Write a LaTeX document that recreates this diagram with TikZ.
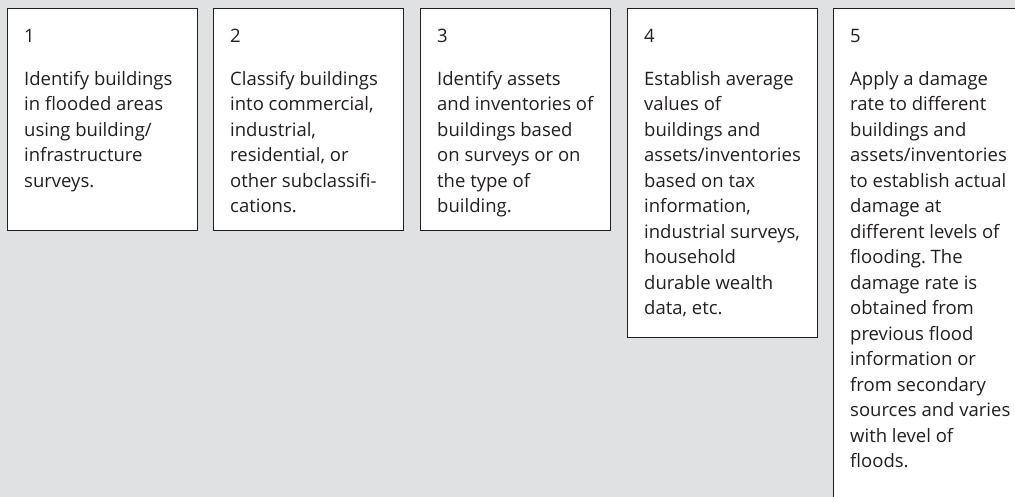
\documentclass[tikz,border=0pt]{standalone}
\usepackage{fontspec}
\setmainfont{Open Sans}
\frenchspacing
\definecolor{bggray}{RGB}{224,225,227}
\definecolor{ink}{RGB}{35,31,32}
\newcommand{\firstln}{\rule{0pt}{16pt}}
\begin{document}
\begin{tikzpicture}[x=1pt,y=-1pt,
  stepframe/.style={draw=ink, line width=1.2pt, fill=white, rectangle, inner sep=0pt, anchor=north west, minimum width=190pt},
  steptext/.style={anchor=north west, align=left, inner sep=0pt, text=ink, font={\fontsize{18.5}{25.5}\selectfont}}]
\fill[bggray] (0,0) rectangle (1015,497);
\useasboundingbox (0,0) rectangle (1015,497);
\node[stepframe, minimum height=222pt] (b1) at (7,8) {};
\node[stepframe, minimum height=222pt] (b2) at (213,8) {};
\node[stepframe, minimum height=222pt] (b3) at (420,8) {};
\node[stepframe, minimum height=329pt] (b4) at (627,8) {};
\node[stepframe, minimum height=520pt] (b5) at (833,8) {};
\node[steptext] (t1) at ([xshift=17pt,yshift=-18pt]b1.north west) {\firstln 1\\[17.5pt]Identify buildings\\in flooded areas\\using building/\\infrastructure\\surveys.};
\node[steptext] (t2) at ([xshift=17pt,yshift=-18pt]b2.north west) {\firstln 2\\[17.5pt]Classify buildings\\into commercial,\\industrial,\\residential, or\\other subclassifi-\\cations.};
\node[steptext] (t3) at ([xshift=17pt,yshift=-18pt]b3.north west) {\firstln 3\\[17.5pt]Identify assets\\and inventories of\\buildings based\\on surveys or on\\the type of\\building.};
\node[steptext] (t4) at ([xshift=17pt,yshift=-18pt]b4.north west) {\firstln 4\\[17.5pt]Establish average\\values of\\buildings and\\assets/inventories\\based on tax\\information,\\industrial surveys,\\household\\durable wealth\\data, etc.};
\node[steptext] (t5) at ([xshift=17pt,yshift=-18pt]b5.north west) {\firstln 5\\[17.5pt]Apply a damage\\rate to different\\buildings and\\assets/inventories\\to establish actual\\damage at\\different levels of\\flooding. The\\damage rate is\\obtained from\\previous flood\\information or\\from secondary\\sources and varies\\with level of\\floods.};
\end{tikzpicture}
\end{document}
